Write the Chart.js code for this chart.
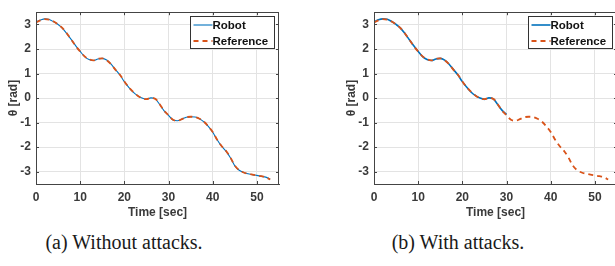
<!DOCTYPE html>
<html>
<head>
<meta charset="utf-8">
<script src="https://cdn.jsdelivr.net/npm/chart.js@4.4.0/dist/chart.umd.min.js"></script>
<style>
  html, body { margin: 0; padding: 0; background: #fff; }
  body { width: 615px; height: 266px; overflow: hidden; position: relative; }
  canvas { position: absolute; top: 0; }
  .cap { position: absolute; top: 231px; font-family: "Liberation Serif", "Times New Roman", serif;
         font-size: 20px; color: #1a1a1a; white-space: nowrap; transform: translateX(-50%); }
</style>
</head>
<body>
<canvas id="chartA" width="300" height="226" style="left:0px"></canvas>
<canvas id="chartB" width="300" height="226" style="left:338px"></canvas>
<div class="cap" style="left:124px">(a) Without attacks.</div>
<div class="cap" style="left:458px">(b) With attacks.</div>
<script>
// time in seconds
const time = [0,1,2,3,4,5,6,7,8,9,10,11,12,13,14,15,16,17,18,19,20,21,22,23,24,25,26,
  27,28,29,30,31,32,33,34,35,36,37,38,39,40,41,42,43,44,45,46,47,48,49,50,51,52,53];

// reference heading [rad]
const reference = [3.08,3.17,3.22,3.20,3.12,3.00,2.85,2.63,2.38,2.12,1.90,1.70,1.58,1.54,1.60,
  1.62,1.54,1.38,1.15,0.95,0.68,0.44,0.25,0.10,0.00,-0.04,0.00,-0.03,-0.25,-0.52,-0.70,
  -0.88,-0.92,-0.86,-0.78,-0.76,-0.77,-0.84,-0.96,-1.15,-1.38,-1.70,-1.95,-2.15,-2.42,
  -2.75,-2.94,-3.03,-3.08,-3.12,-3.15,-3.18,-3.22,-3.32];

// robot heading, no attacks
const robot = [3.10,3.18,3.23,3.20,3.11,3.00,2.84,2.62,2.38,2.13,1.90,1.69,1.57,1.53,1.59,
  1.62,1.55,1.38,1.16,0.94,0.67,0.44,0.24,0.10,0.00,-0.05,0.01,-0.03,-0.26,-0.52,-0.70,
  -0.89,-0.92,-0.86,-0.78,-0.76,-0.77,-0.84,-0.97,-1.15,-1.39,-1.70,-1.96,-2.16,-2.43,
  -2.76,-2.94,-3.03,-3.08,-3.12,-3.15,-3.19,-3.22,-3.31];

// robot heading with attacks (stops at 30 s)
const robotAttack = [3.10,3.19,3.23,3.21,3.12,3.00,2.85,2.63,2.38,2.13,1.90,1.69,1.57,1.53,
  1.59,1.62,1.55,1.38,1.16,0.94,0.67,0.44,0.24,0.10,0.00,-0.05,0.01,-0.03,-0.26,-0.50,-0.66];

const xTicks = [0, 10, 20, 30, 40, 50];
const yTicks = [-3, -2, -1, 0, 1, 2, 3];

const BLUE = '#0072BD';
const ORANGE = '#D95319';
const AXIS = '#444444';
const TEXT = '#3a3a3a';
const FONT = '"Liberation Sans", Arial, sans-serif';

function pts(vals) {
  return vals.map((v, i) => ({ x: time[i], y: v }));
}

// box, inner tick marks and legend inside the axes
const boxPlugin = {
  id: 'box',
  afterDraw(chart) {
    const { ctx, chartArea: a, scales } = chart;
    ctx.save();
    ctx.strokeStyle = AXIS;
    ctx.lineWidth = 1;
    ctx.strokeRect(Math.round(a.left) + 0.5, Math.round(a.top) + 0.5,
      Math.round(a.right - a.left) - 1, Math.round(a.bottom - a.top));
    ctx.beginPath();
    xTicks.forEach(t => {
      const px = Math.round(scales.x.getPixelForValue(t)) + 0.5;
      ctx.moveTo(px, a.bottom); ctx.lineTo(px, a.bottom - 3);
      ctx.moveTo(px, a.top); ctx.lineTo(px, a.top + 3);
    });
    yTicks.forEach(t => {
      const py = Math.round(scales.y.getPixelForValue(t)) + 0.5;
      ctx.moveTo(a.left, py); ctx.lineTo(a.left + 3, py);
      ctx.moveTo(a.right, py); ctx.lineTo(a.right - 3, py);
    });
    ctx.stroke();

    // legend
    const w = 84, h = 32;
    const lx = Math.round(a.right - 5 - w) + 0.5, ly = Math.round(a.top + 4) + 0.5;
    ctx.fillStyle = '#fff';
    ctx.fillRect(lx, ly, w, h);
    ctx.strokeStyle = '#333';
    ctx.strokeRect(lx, ly, w, h);
    ctx.font = 'bold 11.5px ' + FONT;
    ctx.textBaseline = 'middle';
    ctx.fillStyle = '#111';
    chart.data.datasets.forEach((ds, i) => {
      const cy = ly + 8.5 + i * 16;
      ctx.beginPath();
      ctx.strokeStyle = ds.borderColor;
      ctx.lineWidth = ds.borderWidth;
      ctx.setLineDash(ds.borderDash || []);
      ctx.moveTo(lx + 3, cy); ctx.lineTo(lx + 22, cy);
      ctx.stroke();
      ctx.setLineDash([]);
      ctx.fillText(ds.label, lx + 22, cy + 0.5);
    });
    ctx.restore();
  }
};

function makeChart(id, robotVals, robotWidth) {
  return new Chart(document.getElementById(id), {
    type: 'line',
    data: {
      datasets: [
        { label: 'Robot', data: pts(robotVals), borderColor: BLUE, borderWidth: robotWidth, order: 2,
          pointRadius: 0, cubicInterpolationMode: 'monotone', fill: false },
        { label: 'Reference', data: pts(reference), borderColor: ORANGE, borderWidth: 1.8, order: 1,
          borderDash: [5, 4], pointRadius: 0, cubicInterpolationMode: 'monotone', fill: false }
      ]
    },
    options: {
      responsive: false,
      animation: false,
      layout: { padding: { top: 2, right: 21, bottom: 0, left: 0 } },
      plugins: { legend: { display: false }, tooltip: { enabled: false } },
      scales: {
        x: {
          type: 'linear', min: 0, max: 55,
          afterBuildTicks: s => { s.ticks = xTicks.map(v => ({ value: v })); },
          afterFit: s => { s.height = 42; },
          grid: { color: '#e3e3e3', drawTicks: false },
          border: { color: AXIS },
          ticks: { padding: 6, maxRotation: 0, color: TEXT, font: { family: FONT, size: 12, weight: 'bold' } },
          title: { display: true, text: 'Time [sec]', color: TEXT, padding: { top: 0, bottom: 6 },
                   font: { family: FONT, size: 12, weight: 'bold' } }
        },
        y: {
          min: -3.5, max: 3.5,
          afterBuildTicks: s => { s.ticks = yTicks.map(v => ({ value: v })); },
          afterFit: s => { s.width = 36; },
          grid: { color: '#e3e3e3', drawTicks: false },
          border: { color: AXIS },
          ticks: { padding: 5, color: TEXT, font: { family: FONT, size: 12, weight: 'bold' } },
          title: { display: true, text: 'θ [rad]', color: TEXT, padding: { top: 6, bottom: 0 },
                   font: { family: FONT, size: 12, weight: 'bold' } }
        }
      }
    },
    plugins: [boxPlugin]
  });
}

makeChart('chartA', robot, 1.1);
makeChart('chartB', robotAttack, 1.6);
</script>
</body>
</html>
